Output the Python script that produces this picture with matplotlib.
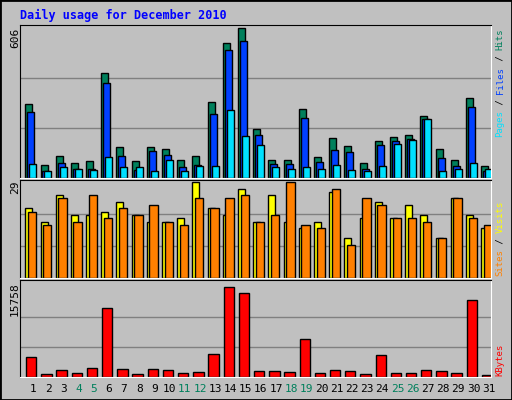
import matplotlib.pyplot as plt
import numpy as np

days = np.arange(1, 32)
hits = [298, 51, 88, 62, 67, 425, 125, 67, 125, 117, 71, 88, 306, 545, 606, 199,
        71, 71, 277, 84, 162, 129, 59, 150, 166, 174, 252, 117, 71, 322, 47]
files = [265, 30, 59, 38, 38, 384, 88, 34, 108, 92, 43, 51, 257, 516, 553, 174,
         55, 55, 244, 63, 112, 104, 38, 133, 150, 158, 240, 80, 47, 285, 30]
pages = [55, 30, 43, 38, 34, 84, 43, 43, 30, 71, 30, 47, 47, 273, 170, 133,
         43, 38, 43, 38, 51, 34, 30, 47, 137, 154, 240, 30, 38, 59, 38]
visits = [21, 17, 25, 19, 19, 20, 23, 19, 17, 17, 18, 29, 21, 19, 27, 17,
          25, 17, 15, 17, 26, 12, 18, 23, 18, 22, 19, 12, 24, 19, 15]
sites = [20, 16, 24, 17, 25, 18, 21, 19, 22, 17, 16, 24, 21, 24, 25, 17,
         19, 29, 16, 15, 27, 10, 24, 22, 18, 18, 17, 12, 24, 18, 16]
kbytes = [3508, 575, 1265, 748, 1610, 12135, 1438, 575, 1438, 1265, 748, 920,
          4026, 15758, 14723, 1093, 1093, 920, 6614, 748, 1265, 1093, 575, 3853,
          748, 748, 1265, 1093, 748, 13515, 345]
weekends = [4, 5, 11, 12, 18, 19, 25, 26]

bg = "#C0C0C0"
mono = "DejaVu Sans Mono"
fig = plt.figure(figsize=(5.12, 4), dpi=100, facecolor=bg)
W, H = 512, 400

def panel(top, bottom):
    ax = fig.add_axes([20 / W, 1 - bottom / H, 471 / W, (bottom - top) / H])
    ax.set_facecolor(bg)
    ax.set_xlim(0.15, 31.15)
    ax.set_xticks([])
    ax.set_yticks([])
    for s in ax.spines.values():
        s.set_color("black")
    ax.spines["bottom"].set_color("white")
    ax.spines["right"].set_color("white")
    return ax

kw = dict(align="edge", edgecolor="black", linewidth=1)

ax1 = panel(25, 178)
ax1.set_ylim(0, 606 * 1.02)
for g in (606 / 3, 606 * 2 / 3):
    ax1.axhline(g, color="gray", lw=1, zorder=0)
ax1.bar(days - 0.5, hits, 0.46, color="#00805C", **kw)
ax1.bar(days - 0.37, files, 0.46, color="#0040FF", **kw)
ax1.bar(days - 0.24, pages, 0.46, color="#00E0FF", **kw)

ax2 = panel(180, 278)
ax2.set_ylim(0, 29 * 1.02)
for g in (29 / 3, 29 * 2 / 3):
    ax2.axhline(g, color="gray", lw=1, zorder=0)
ax2.bar(days - 0.5, visits, 0.46, color="#FFFF00", **kw)
ax2.bar(days - 0.33, sites, 0.55, color="#FF8000", **kw)

ax3 = panel(280, 377)
ax3.set_ylim(0, 15758 * 1.08)
for g in (15758 / 3, 15758 * 2 / 3):
    ax3.axhline(g, color="gray", lw=1, zorder=0)
ax3.bar(days - 0.45, kbytes, 0.68, color="#FF0000", **kw)
ax3.set_xticks(days)
ax3.set_xticklabels([str(d) for d in days], family=mono, fontsize=8)
ax3.tick_params(axis="x", length=0, pad=5)
for lbl, d in zip(ax3.get_xticklabels(), days):
    lbl.set_color("#00805C" if d in weekends else "black")

fig.text(20 / W, 1 - 15 / H, "Daily usage for December 2010", color="#0000FF",
         family=mono, fontsize=8.5, fontweight="bold", va="center")
for txt, y in (("606", 28), ("29", 181), ("15758", 282)):
    fig.text(15 / W, 1 - y / H, txt, rotation=90, family=mono, fontsize=8,
             ha="center", va="top")

# vertical labels read bottom-to-top, placed from the bottom upward
def right_label(parts, bottom, size=6.5):
    step = size * 0.602 * 100 / 72
    y = bottom
    for txt, col in parts:
        fig.text(500 / W, 1 - y / H, txt, rotation=90, family=mono, fontsize=size,
                 color=col, ha="center", va="bottom")
        y -= len(txt) * step

right_label([("Pages", "#00E0FF"), (" / ", "black"), ("Files", "#0040FF"),
             (" / ", "black"), ("Hits", "#00805C")], 137)
right_label([("Sites", "#FF8000"), (" / ", "black"), ("Visits", "#FFFF00")], 276)
right_label([("KBytes", "#FF0000")], 376)

fig.patches.append(plt.Rectangle((0, 0), 1, 1, transform=fig.transFigure,
                                 fill=False, edgecolor="black", lw=2))
fig.savefig("out.png", dpi=100, facecolor=bg)
